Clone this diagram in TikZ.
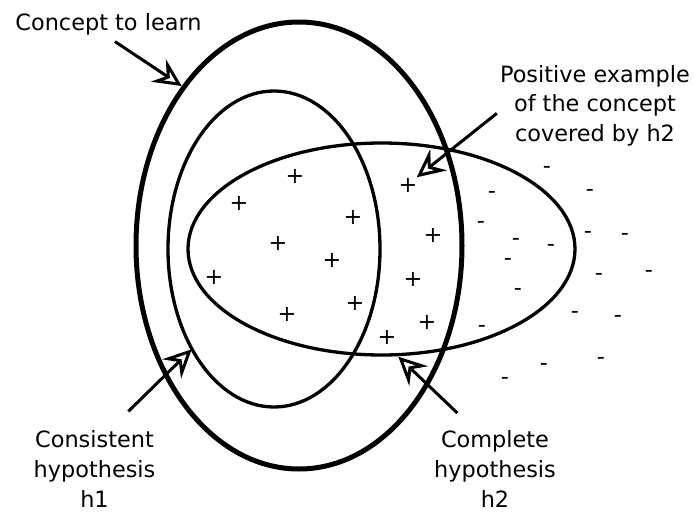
\documentclass[tikz,border=0pt]{standalone}
\usepackage{fontspec}
\setmainfont{DejaVu Sans}
\usetikzlibrary{arrows.meta, calc}

\begin{document}
\begin{tikzpicture}[
  x=1pt, y=-1pt,
  note/.style={font=\fontsize{22.4}{29.6}\selectfont, align=center, inner sep=0pt},
  plusmark/.style={font=\fontsize{22.4}{22.4}\selectfont, inner sep=0pt},
  minusmark/.style={plusmark, anchor=base, yshift=-6.1pt},
  bigset/.style={line width=5pt},
  hypset/.style={line width=3.3pt},
  arrow/.style={-{Stealth[open, length=28pt, width=27pt, inset=10pt]}, line width=3pt}
]
\useasboundingbox (0,0) rectangle (694,512);

% sets
\draw[bigset] (299,245.5) ellipse [x radius=163, y radius=223.5];
\draw[hypset] (274,249) ellipse [x radius=106, y radius=158];
\draw[hypset] (381.5,249) ellipse [x radius=193.5, y radius=106];

% examples
\foreach \x/\y [count=\i] in {295/176, 239/203, 353/217, 278/243, 332/260, 214/277, 355/303, 287/314,
    408/185, 433/235, 413/279, 427/322, 387/337}
  \node[plusmark] (plus\i) at (\x,\y) {+};
\foreach \x/\y [count=\i] in {547/167, 492/192, 590/190, 481/222, 516/239, 551/245, 588/232, 625/234,
    508/259, 599/274, 649/271, 518/289, 575/312, 618/316, 482/326, 601/358, 544/364, 505/378}
  \node[minusmark] (minus\i) at (\x,\y) {-};

% labels
\node[note, anchor=base] (concept) at (108.5,30.7) {Concept to learn};
\node[note] (positive) at (595,105.7) {Positive example\\of the concept\\covered by h2};
\node[note] (consistent) at (94.5,469) {Consistent\\hypothesis\\h1};
\node[note] (complete) at (495,469) {Complete\\hypothesis\\h2};

\coordinate (tipconcept) at (181.7,86);
\coordinate (tippositive) at (416.7,177.3);
\coordinate (tipconsistent) at (191.7,349.3);
\coordinate (tipcomplete) at (398.3,356.7);

\draw[arrow] ($(concept.south)+(6.5,6)$) -- (tipconcept);
\draw[arrow] ($(positive.west)+(-3,7.6)$) -- (tippositive);
\draw[arrow] ($(consistent.north)+(33.8,-19.3)$) -- (tipconsistent);
\draw[arrow] ($(complete.north)+(-37.7,-17.7)$) -- (tipcomplete);

\end{tikzpicture}
\end{document}
